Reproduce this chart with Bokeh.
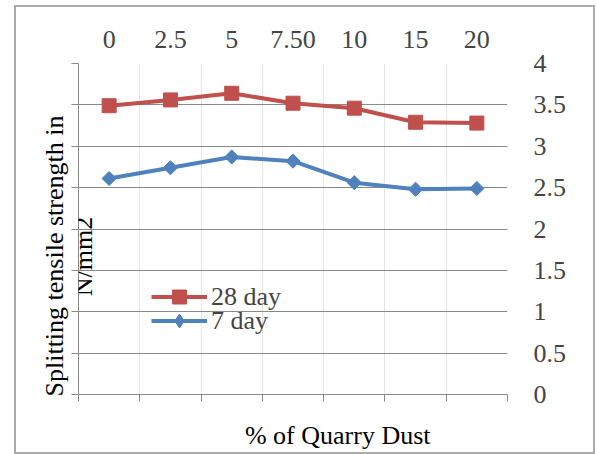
import numpy as np
from bokeh.plotting import figure
from bokeh.layouts import column
from bokeh.models import (LinearAxis, FixedTicker, Range1d, Legend, LegendItem,
                          Label, Grid, Title)
from bokeh.embed import file_html
from bokeh.resources import INLINE

# ---- data ----
dust_levels = ["0", "2.5", "5", "7.50", "10", "15", "20"]
day28 = [3.49, 3.56, 3.64, 3.52, 3.46, 3.29, 3.28]
day7 = [2.61, 2.74, 2.87, 2.82, 2.56, 2.48, 2.49]
y_ticks = [0, 0.5, 1, 1.5, 2, 2.5, 3, 3.5, 4]
y_tick_labels = ["0", "0.5", "1", "1.5", "2", "2.5", "3", "3.5", "4"]
x_title = "% of Quarry Dust"
y_title_1 = "Splitting tensile strength in"
y_title_2 = "N/mm2"

FONT = "Liberation Serif"
FS = "26px"
RED = "#C0504D"
BLUE = "#4F81BD"
GRID = "#898989"
X_TITLE_POS = 4.23   # horizontal placement of the x title (in category-slot units)

n = len(dust_levels)
xpos = [i + 0.5 for i in range(n)]

p = figure(width=577, height=445, x_range=Range1d(0, n), y_range=Range1d(0, 4),
           output_backend="svg", toolbar_location=None,
           x_axis_location=None, y_axis_location=None,
           min_border_left=62, min_border_right=86, min_border_top=56,
           min_border_bottom=56)
p.outline_line_color = None
p.background_fill_color = "white"
p.border_fill_color = "white"

# top category labels
top = LinearAxis(ticker=FixedTicker(ticks=xpos),
                 major_label_overrides={x: lab for x, lab in zip(xpos, dust_levels)})
top.axis_line_color = None
top.major_tick_line_color = None
top.minor_tick_line_color = None
top.major_label_text_font = FONT
top.major_label_text_font_size = FS
top.major_label_standoff = 10
p.add_layout(top, "above")

# bottom axis with ticks between categories
bot_ticks = list(range(n + 1))
bottom = LinearAxis(ticker=FixedTicker(ticks=bot_ticks),
                    major_label_overrides={t: "" for t in bot_ticks})
bottom.axis_line_color = GRID
bottom.major_tick_line_color = GRID
bottom.major_tick_in = 0
bottom.major_tick_out = 7
bottom.minor_tick_line_color = None
bottom.minor_tick_out = 0
bottom.major_label_standoff = 0
p.add_layout(bottom, "below")

# x title as the single label of a bare second bottom axis
xt = LinearAxis(ticker=FixedTicker(ticks=[X_TITLE_POS]),
                major_label_overrides={X_TITLE_POS: x_title})
xt.axis_line_color = None
xt.major_tick_line_color = None
xt.minor_tick_line_color = None
xt.major_tick_in = 0
xt.major_tick_out = 0
xt.minor_tick_in = 0
xt.minor_tick_out = 0
xt.major_label_standoff = 19
xt.major_label_text_font = FONT
xt.major_label_text_font_size = FS
xt.major_label_text_color = "black"
p.add_layout(xt, "below")

# left axis: line + ticks, no labels
left = LinearAxis(ticker=FixedTicker(ticks=y_ticks),
                  major_label_overrides={t: "" for t in y_ticks})
left.axis_line_color = GRID
left.major_tick_line_color = GRID
left.major_tick_in = 0
left.major_tick_out = 7
left.minor_tick_line_color = None
left.minor_tick_out = 0
left.major_label_standoff = 0
p.add_layout(left, "left")

# right axis: labels only
right = LinearAxis(ticker=FixedTicker(ticks=y_ticks),
                   major_label_overrides={t: lab for t, lab in zip(y_ticks, y_tick_labels)})
right.axis_line_color = None
right.major_tick_line_color = None
right.minor_tick_line_color = None
right.major_label_text_font = FONT
right.major_label_text_font_size = FS
right.major_label_standoff = 20
p.add_layout(right, "right")

grid = Grid(dimension=1, ticker=FixedTicker(ticks=y_ticks[1:]),
            grid_line_color=GRID, grid_line_width=1)
p.add_layout(grid)

# series
l28 = p.line(xpos, day28, line_color=RED, line_width=4)
s28 = p.scatter(xpos, day28, marker="square", size=14, fill_color=RED, line_color=RED)
l7 = p.line(xpos, day7, line_color=BLUE, line_width=4)
s7 = p.scatter(xpos, day7, marker="square", size=10, angle=np.pi / 4,
               fill_color=BLUE, line_color=BLUE)
# diamond used only for the legend key
s7_key = p.scatter(xpos, day7, marker="diamond", size=14, fill_color=BLUE,
                   line_color=BLUE, visible=False)

leg_kw = dict(padding=0, margin=0, spacing=0, glyph_width=56, glyph_height=35,
              label_standoff=4, label_text_font=FONT, label_text_font_size=FS,
              border_line_color=None, background_fill_alpha=0,
              inactive_fill_alpha=0)
leg1 = Legend(items=[LegendItem(label="28 day", renderers=[l28, s28])],
              location=(73, 80), **leg_kw)
leg2 = Legend(items=[LegendItem(label="7 day", renderers=[l7, s7_key])],
              location=(73, 56), **leg_kw)
p.add_layout(leg1, "center")
p.add_layout(leg2, "center")

# y title: first line outside the axis, second line inside the plot as in the original
p.add_layout(Title(text=y_title_1, align="left", offset=-2, standoff=5,
                   text_font=FONT, text_font_size=FS, text_font_style="normal",
                   text_color="black"), "left")
p.add_layout(Label(x=5, y=138, x_units="screen", y_units="screen", angle=np.pi / 2,
                   text=y_title_2, text_align="center", text_baseline="middle",
                   text_font=FONT, text_font_size=FS, text_color="black"))

layout = column(p, styles={"border": "2px solid #ababab", "margin": "5px 0 0 14px"})
open("out.html", "w").write(file_html(layout, INLINE))
